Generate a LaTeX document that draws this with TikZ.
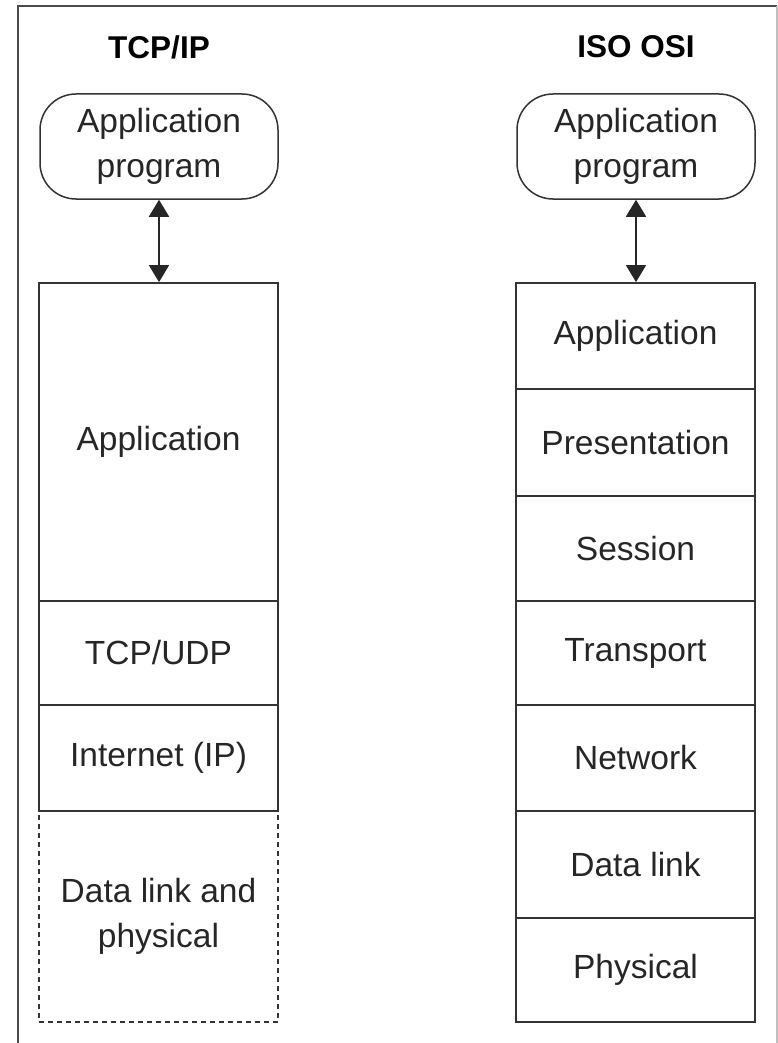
\documentclass[tikz,border=0pt]{standalone}
\usepackage{fontspec}
\setmainfont{Liberation Sans}
\usetikzlibrary{arrows.meta}
\begin{document}
\begin{tikzpicture}[x=1pt,y=-1pt,
  txt/.style={font=\fontsize{33.5}{45}\selectfont, text=black!85},
  layer/.style={txt, draw=black!80, line width=1.8pt, minimum width=239pt, inner sep=0pt, align=center},
  dlayer/.style={layer, dash pattern=on 5pt off 4pt},
  prog/.style={txt, draw=black!80, line width=1.5pt, rounded corners=36pt, minimum width=238pt, minimum height=105pt, inner sep=0pt, align=center},
  title/.style={font=\fontsize{31.5}{36}\selectfont\bfseries, text=black},
  link/.style={line width=1.8pt, draw=black!85, {Triangle[width=20pt,length=17pt]}-{Triangle[width=20pt,length=17pt]}}
]
\useasboundingbox (0,0) rectangle (778,1043);
% frame
\draw[line width=2pt, black!70] (18,1043) -- (18,6) -- (777,6);
\draw[line width=1.5pt, black!25] (777,6) -- (777,1043);

% titles
\node[title] (t1) at (159,47) {TCP/IP};
\node[title] (t2) at (636,47) {ISO OSI};

% application programs
\node[prog] (p1) at (159,146.5) {Application\\program};
\node[prog] (p2) at (636,146.5) {Application\\program};

% TCP/IP stack
\node[dlayer, minimum height=211pt] (l4) at (158.5,916.5) {Data link and\\physical};
\node[layer, minimum height=318pt] (l1) at (158.5,442) {Application};
\node[layer, minimum height=104pt] (l2) at (158.5,653) {TCP/UDP};
\node[layer, minimum height=106pt] (l3) at (158.5,758) {Internet (IP)};

% OSI stack
\node[layer, minimum height=106pt] (o1) at (635.5,336) {Application};
\node[layer, minimum height=107pt] (o2) at (635.5,442.5) {Presentation};
\node[layer, minimum height=105pt] (o3) at (635.5,548.5) {Session};
\node[layer, minimum height=104pt] (o4) at (635.5,653) {Transport};
\node[layer, minimum height=106pt] (o5) at (635.5,758) {Network};
\node[layer, minimum height=107pt] (o6) at (635.5,864.5) {Data link};
\node[layer, minimum height=104pt] (o7) at (635.5,970) {Physical};

% arrows
\draw[link] (p1.south) -- (p1.south |- l1.north);
\draw[link] (p2.south) -- (p2.south |- o1.north);
\end{tikzpicture}
\end{document}
